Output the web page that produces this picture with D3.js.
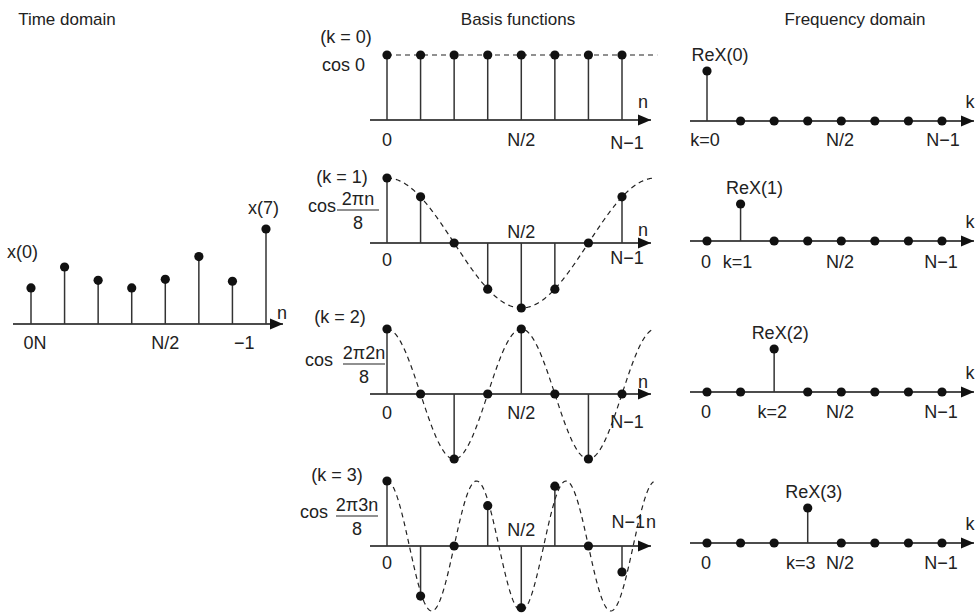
<!DOCTYPE html>
<html>
<head>
<meta charset="utf-8">
<script src="https://cdn.jsdelivr.net/npm/d3@7"></script>
<style>
  body { margin: 0; background: #fff; }
  text { font-family: "Liberation Sans", Arial, sans-serif; fill: #222; }
</style>
</head>
<body>
<div id="chart"></div>
<script>
const kWidth = 980;
const kHeight = 615;

// time domain samples x(n)
const sampleN = [0, 1, 2, 3, 4, 5, 6, 7];
const timeValues = [0.38, 0.60, 0.46, 0.38, 0.47, 0.71, 0.45, 1.0];
const timeTickPos = [0.12, 4, 6.35];
const timeTickLabels = ["0N", "N/2", "\u22121"];

// basis functions cos(2*pi*k*n/8), sampled as drawn
const basisK = [0, 1, 2, 3];
const basisValues = [
  [1, 1, 1, 1, 1, 1, 1, 1],
  [1, 0.71, 0, -0.71, -1, -0.71, 0, 0.71],
  [1, 0, -1, 0, 1, 0, -1, 0],
  [1, -0.77, 0, 0.62, -0.95, 0.92, 0, -0.40]
];
const basisLabels = ["(k = 0)", "(k = 1)", "(k = 2)", "(k = 3)"];
const basisNumerators = [null, "2\u03c0n", "2\u03c02n", "2\u03c03n"];
const basisTickLabels = ["0", "N/2", "N\u22121"];
const basisTickPos = [0, 4, 7.15];

// frequency domain ReX(k)
const freqValues = [1.0, 0.74, 0.86, 0.70];
const freqLabels = ["ReX(0)", "ReX(1)", "ReX(2)", "ReX(3)"];

const titles = ["Time domain", "Basis functions", "Frequency domain"];

// layout (pixels)
const basisLayout = [
  { axisY: 120, kx: 346, ky: 43, cosX: 322, cosY: 71, tickY: [146, 146, 149], nY: 108 },
  { axisY: 243, kx: 342, ky: 183, cosX: 308, cosY: 212, fracX: 358, tickY: [266, 238, 264], nY: 236 },
  { axisY: 394, kx: 340, ky: 323, cosX: 305, cosY: 366, fracX: 364, tickY: [419, 419, 428], nY: 388 },
  { axisY: 546, kx: 337, ky: 481, cosX: 300, cosY: 518, fracX: 357, tickY: [569, 536, 528], nY: 528 }
];
const freqLayout = [
  { axisY: 121, labelDx: 13, tickY: 146 },
  { axisY: 241, labelDx: 14, tickY: 268 },
  { axisY: 392, labelDx: 6, tickY: 418 },
  { axisY: 543, labelDx: 6, tickY: 569 }
];

const svg = d3.select("#chart")
  .append("svg")
  .attr("width", kWidth)
  .attr("height", kHeight);

svg.append("defs").append("marker")
  .attr("id", "arrow")
  .attr("markerUnits", "userSpaceOnUse")
  .attr("viewBox", "0 -6 14 12")
  .attr("refX", 13).attr("refY", 0)
  .attr("markerWidth", 14).attr("markerHeight", 12)
  .attr("orient", "auto")
  .append("path")
  .attr("d", "M0,-5.5L13,0L0,5.5Z")
  .attr("fill", "#111");

function axisLine(g, x0, x1, y)
{
  g.append("line")
    .attr("x1", x0).attr("x2", x1)
    .attr("y1", y).attr("y2", y)
    .attr("stroke", "#111")
    .attr("stroke-width", 1.6)
    .attr("marker-end", "url(#arrow)");
}

function label(g, txt, x, y, anchor = "middle", size = 18)
{
  return g.append("text")
    .attr("x", x).attr("y", y)
    .attr("text-anchor", anchor)
    .attr("font-size", size)
    .text(txt);
}

function stems(g, xScale, yScale, values)
{
  g.selectAll(null)
    .data(values)
    .enter()
    .append("line")
    .attr("x1", (d, i) => xScale(sampleN[i]))
    .attr("x2", (d, i) => xScale(sampleN[i]))
    .attr("y1", yScale(0))
    .attr("y2", d => yScale(d))
    .attr("stroke", "#333")
    .attr("stroke-width", 1.5);

  g.selectAll(null)
    .data(values)
    .enter()
    .append("circle")
    .attr("cx", (d, i) => xScale(sampleN[i]))
    .attr("cy", d => yScale(d))
    .attr("r", 4.6)
    .attr("fill", "#111");
}

// titles
[67, 518, 855].forEach((x, i) => label(svg, titles[i], x, 25, "middle", 17));

// time domain
{
  const g = svg.append("g");
  const x = d3.scaleLinear().domain([0, 7]).range([31, 266]);
  const y = d3.scaleLinear().domain([0, 1]).range([324, 229]);
  axisLine(g, 13, 283, y(0));
  stems(g, x, y, timeValues);
  label(g, "x(0)", 7, 258, "start");
  label(g, "x(7)", 248, 214, "start");
  label(g, "n", 282, 319);
  timeTickLabels.forEach((t, i) => label(g, t, x(timeTickPos[i]), 349));
}

// basis functions
basisK.forEach((k, p) => {
  const L = basisLayout[p];
  const g = svg.append("g");
  const x = d3.scaleLinear().domain([0, 7]).range([387, 622]);
  const y = d3.scaleLinear().domain([-1, 1]).range([L.axisY + 65, L.axisY - 65]);

  axisLine(g, 370, 651, y(0));

  // continuous basis function behind the samples
  const t = d3.range(0, 7.96, 0.02);
  const curve = d3.line()
    .x(d => x(d))
    .y(d => y(Math.cos(2 * Math.PI * k * d / 8)));
  g.append("path")
    .attr("d", curve(k === 0 ? [0, 8.05] : t))
    .attr("fill", "none")
    .attr("stroke", "#222")
    .attr("stroke-width", 1.2)
    .attr("stroke-dasharray", "5,4");

  stems(g, x, y, basisValues[p]);

  label(g, basisLabels[p], L.kx, L.ky);
  if (k === 0) {
    label(g, "cos 0", L.cosX, L.cosY, "start");
  } else {
    label(g, "cos", L.cosX, L.cosY, "start");
    label(g, basisNumerators[p], L.fracX, L.cosY - 7, "middle", 18);
    g.append("line")
      .attr("x1", L.fracX - 21).attr("x2", L.fracX + 21)
      .attr("y1", L.cosY - 2).attr("y2", L.cosY - 2)
      .attr("stroke", "#222").attr("stroke-width", 1.2);
    label(g, "8", L.fracX, L.cosY + 17, "middle", 18);
  }
  if (k === 3) {
    label(g, basisTickLabels[0], x(basisTickPos[0]), L.tickY[0]);
    label(g, basisTickLabels[1], x(basisTickPos[1]), L.tickY[1]);
    label(g, basisTickLabels[2], 645, L.tickY[2], "end");
    label(g, "n", 646, L.nY, "start");
  } else {
    basisTickLabels.forEach((s, i) => label(g, s, x(basisTickPos[i]), L.tickY[i]));
    label(g, "n", 643, L.nY);
  }
});

// frequency domain
freqLabels.forEach((lab, p) => {
  const L = freqLayout[p];
  const g = svg.append("g");
  const x = d3.scaleLinear().domain([0, 7]).range([707, 942]);
  const y = d3.scaleLinear().domain([0, 1]).range([L.axisY, L.axisY - 50]);
  const vals = sampleN.map(n => (n === p ? freqValues[p] : 0));

  axisLine(g, 690, 974, y(0));
  stems(g, x, y, vals);

  label(g, lab, x(p) + L.labelDx, y(freqValues[p]) - 10);
  label(g, "k", 970, L.axisY - 13);

  const ticks = p === 0
    ? [["k=0", 705], ["N/2", x(3.96)], ["N\u22121", 943]]
    : [["0", 706], ["k=" + p, x(p) + [0, -3, -2, -7][p]], ["N/2", x(3.96)], ["N\u22121", 941]];
  ticks.forEach(d => label(g, d[0], d[1], L.tickY));
});
</script>
</body>
</html>
